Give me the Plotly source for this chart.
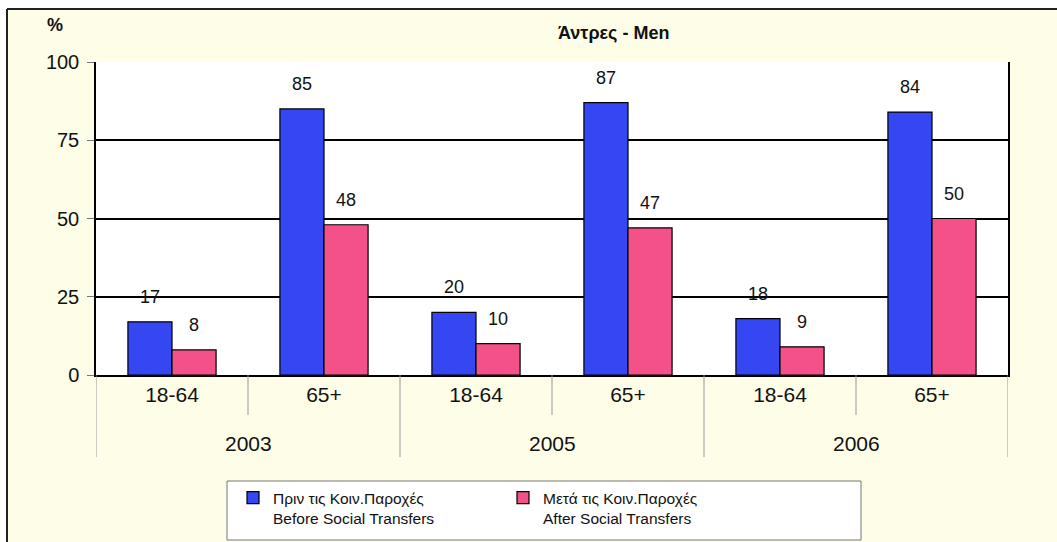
import plotly.graph_objects as go

# Data: at-risk-of-poverty rate for men, before and after social transfers
years = ["2003", "2005", "2006"]
age_groups = ["18-64", "65+"]
before_transfers = [17, 85, 20, 87, 18, 84]
after_transfers = [8, 48, 10, 47, 9, 50]

series_names = [
    "Πριν τις Κοιν.Παροχές<br>Before Social Transfers",
    "Μετά τις Κοιν.Παροχές<br>After Social Transfers",
]
title_text = "Άντρες - Men"
y_ticks = [0, 25, 50, 75, 100]

# Layout constants
W, H = 1057, 542
ML, MR, MT, MB = 96, 49, 62, 167
PW, PH = W - ML - MR, H - MT - MB
BARGAP = 0.42
BLUE = "#3447F2"
PINK = "#F4508A"
CREAM = "#FEFDE8"
FONT = "Liberation Sans, Arial, sans-serif"

categories = [a for _ in years for a in age_groups]
xpos = list(range(len(categories)))


def px_x(px):
    return (px - ML) / PW


def px_y(py):
    return (H - MB - py) / PH


fig = go.Figure()
fig.add_trace(go.Bar(x=xpos, y=before_transfers, name=series_names[0],
                     marker=dict(color=BLUE, line=dict(color="black", width=1.2))))
fig.add_trace(go.Bar(x=xpos, y=after_transfers, name=series_names[1],
                     marker=dict(color=PINK, line=dict(color="black", width=1.2))))

# Value labels above each bar
half = (1 - BARGAP) / 4
annotations = []
for vals, off in ((before_transfers, -half), (after_transfers, half)):
    for x, v in zip(xpos, vals):
        annotations.append(dict(x=x + off, y=v, xref="x", yref="y", text=str(v),
                                showarrow=False, yanchor="middle", yshift=25,
                                font=dict(size=18, color="#111", family=FONT)))

# Year labels under the age groups
for i, yr in enumerate(years):
    annotations.append(dict(x=i * len(age_groups) + (len(age_groups) - 1) / 2,
                            y=px_y(443), xref="x", yref="paper", text=yr,
                            showarrow=False, yanchor="middle",
                            font=dict(size=21, color="#111", family=FONT)))

annotations.append(dict(x=px_x(613), y=px_y(33), xref="paper", yref="paper",
                        text="<b>" + title_text + "</b>", showarrow=False,
                        xanchor="center", yanchor="middle",
                        font=dict(size=18, color="#111", family=FONT)))
annotations.append(dict(x=px_x(55), y=px_y(25), xref="paper", yref="paper",
                        text="<b>%</b>", showarrow=False,
                        xanchor="center", yanchor="middle",
                        font=dict(size=18, color="#111", family=FONT)))

shapes = []
# Separators between the category labels
n = len(categories)
for k in range(n + 1):
    xb = k - 0.5
    long_line = k % len(age_groups) == 0
    shapes.append(dict(type="line", xref="x", yref="paper", x0=xb, x1=xb,
                       y0=0, y1=px_y(457 if long_line else 415),
                       line=dict(color="#999999", width=1)))

# White margin strips and the outer frame
shapes.append(dict(type="rect", xref="paper", yref="paper", x0=px_x(-5), x1=px_x(7),
                   y0=px_y(H + 5), y1=px_y(-5), fillcolor="white", line=dict(width=0),
                   layer="below"))
shapes.append(dict(type="rect", xref="paper", yref="paper", x0=px_x(-5), x1=px_x(W + 5),
                   y0=px_y(9), y1=px_y(-5), fillcolor="white", line=dict(width=0),
                   layer="below"))
shapes.append(dict(type="line", xref="paper", yref="paper", x0=px_x(7), x1=px_x(7),
                   y0=px_y(9), y1=px_y(H + 5), line=dict(color="#222", width=2)))
shapes.append(dict(type="line", xref="paper", yref="paper", x0=px_x(7), x1=px_x(W + 5),
                   y0=px_y(9), y1=px_y(9), line=dict(color="#222", width=2)))

# Legend box
shapes.append(dict(type="rect", xref="paper", yref="paper", x0=px_x(227), x1=px_x(861),
                   y0=px_y(540), y1=px_y(481), fillcolor="white",
                   line=dict(color="#777", width=1), layer="below"))

fig.update_layout(
    width=W, height=H,
    margin=dict(l=ML, r=MR, t=MT, b=MB, pad=0),
    paper_bgcolor=CREAM, plot_bgcolor="white",
    barmode="group", bargap=BARGAP, bargroupgap=0,
    font=dict(family=FONT, color="#111"),
    annotations=annotations, shapes=shapes,
    showlegend=True,
    legend=dict(orientation="h", xref="container", yref="container",
                x=233 / W, y=1 - 481 / H, xanchor="left", yanchor="top",
                bgcolor="rgba(0,0,0,0)", borderwidth=0, valign="top",
                entrywidth=225, entrywidthmode="pixels",
                font=dict(size=15.5, family=FONT, color="#111")),
)
fig.update_xaxes(range=[-0.5, n - 0.5], tickvals=xpos, ticktext=categories,
                 showgrid=False, zeroline=False, showline=True, linecolor="black",
                 linewidth=1.5, ticks="", ticklabelstandoff=0,
                 tickfont=dict(size=21, family=FONT, color="#111"))
fig.update_yaxes(range=[0, 100], tickvals=y_ticks, showgrid=True, gridcolor="black",
                 gridwidth=1.5, zeroline=False, showline=True, linecolor="black",
                 linewidth=1.5, mirror=True, ticks="outside", ticklen=7, tickcolor="#777",
                 ticklabelstandoff=4, tickfont=dict(size=20, family=FONT, color="#111"))

fig.write_html("out.html")
